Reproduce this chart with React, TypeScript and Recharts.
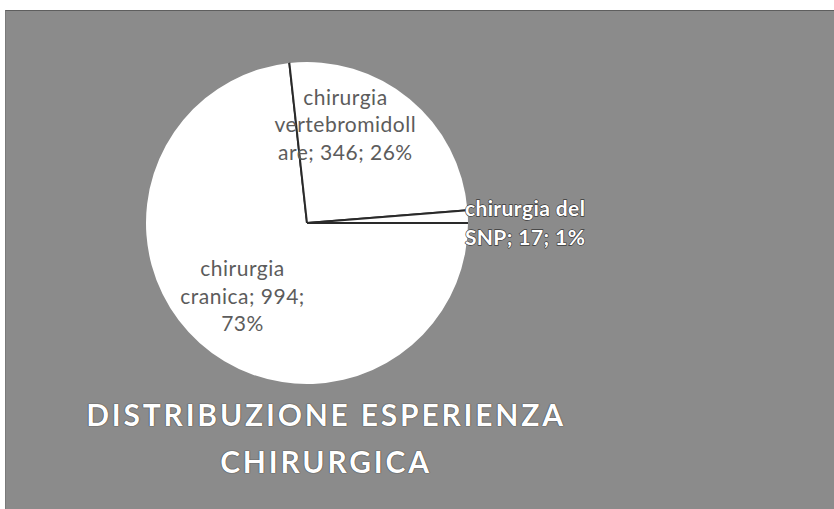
import { PieChart, Pie, Sector } from 'recharts';

const categories = ['chirurgia cranica', 'chirurgia vertebromidollare', 'chirurgia del SNP'];
const counts = [994, 346, 17];
const percents = [73, 26, 1];
const titleLines = ['DISTRIBUZIONE ESPERIENZA', 'CHIRURGICA'];

const data = categories.map((name, i) => ({ name, value: counts[i], pct: percents[i] }));

// where each label sits: fraction of radius + angular nudge (degrees)
const labelPlacement = [
  { radius: 0.6, shift: 0, outside: false },
  { radius: 0.665, shift: 18.6, outside: false },
  { radius: 1.0, shift: 0, outside: true },
];

const RAD = Math.PI / 180;
const polar = (cx: number, cy: number, r: number, angle: number) => ({
  x: cx + r * Math.cos(-angle * RAD),
  y: cy + r * Math.sin(-angle * RAD),
});

// excel-style word wrap with hard break for long words
const wrap = (text: string, max: number) => {
  const lines: string[] = [];
  let cur = '';
  text.split(' ').forEach((w) => {
    let word = w;
    if (cur && (cur + ' ' + word).length > max) {
      lines.push(cur);
      cur = '';
    }
    while ((cur ? cur.length + 1 : 0) + word.length > max) {
      const room = max - (cur ? cur.length + 1 : 0);
      lines.push((cur ? cur + ' ' : '') + word.slice(0, room));
      word = word.slice(room);
      cur = '';
    }
    cur = cur ? cur + ' ' + word : word;
  });
  if (cur) lines.push(cur);
  return lines;
};

const SliceShape = (props: any) => {
  const { cx, cy, outerRadius, startAngle, endAngle } = props;
  const a = polar(cx, cy, outerRadius, startAngle);
  const b = polar(cx, cy, outerRadius, endAngle);
  return (
    <g>
      <Sector {...props} fill="#ffffff" stroke="none" />
      <line x1={cx} y1={cy} x2={a.x} y2={a.y} stroke="#2a2a2a" strokeWidth={2} />
      <line x1={cx} y1={cy} x2={b.x} y2={b.y} stroke="#2a2a2a" strokeWidth={2} />
    </g>
  );
};

const renderLabel = (props: any) => {
  const { cx, cy, midAngle, outerRadius, index, payload } = props;
  const place = labelPlacement[index];
  const text = `${payload.name}; ${payload.value}; ${payload.pct}%`;
  const lines = wrap(text, 14);
  const p = polar(cx, cy, outerRadius * place.radius, midAngle + place.shift);
  if (place.outside) {
    const lh = 29;
    const y0 = p.y + 5 - ((lines.length - 1) * lh) / 2;
    return (
      <text
        x={p.x - 3}
        y={y0}
        textAnchor="start"
        dominantBaseline="central"
        fill="#ffffff"
        stroke="#3a3a3a"
        strokeWidth={1.3}
        paintOrder="stroke"
        letterSpacing={0.4}
        style={{ fontFamily: 'Lato, sans-serif', fontSize: 21, fontWeight: 700 }}
      >
        {lines.map((l, i) => (
          <tspan key={i} x={p.x - 3} y={y0 + i * lh}>
            {l}
          </tspan>
        ))}
      </text>
    );
  }
  const lh = 27.5;
  const y0 = p.y - ((lines.length - 1) * lh) / 2;
  return (
    <text
      x={p.x}
      y={y0}
      textAnchor="middle"
      dominantBaseline="central"
      fill="#5c5c5c"
      letterSpacing={0.5}
      style={{ fontFamily: 'Lato, sans-serif', fontSize: 21 }}
    >
      {lines.map((l, i) => (
        <tspan key={i} x={p.x} y={y0 + i * lh}>
          {l}
        </tspan>
      ))}
    </text>
  );
};

export default function App() {
  return (
    <div style={{ position: 'absolute', left: 0, top: 0, width: 834, height: 509, background: '#ffffff', overflow: 'hidden' }}>
      <div
        style={{
          position: 'absolute',
          left: 5,
          top: 10,
          right: 0,
          bottom: 0,
          background: '#8b8b8b',
          borderTop: '1px solid #5e5e5e',
          borderLeft: '1px solid #7a7a7a',
        }}
      />
      <div style={{ position: 'absolute', left: 0, top: 0 }}>
        <PieChart width={834} height={509} margin={{ top: 0, right: 0, bottom: 0, left: 0 }}>
          <Pie
            data={data}
            dataKey="value"
            nameKey="name"
            cx={307}
            cy={223}
            outerRadius={161}
            startAngle={0}
            endAngle={-360}
            shape={SliceShape}
            label={renderLabel}
            labelLine={false}
            isAnimationActive={false}
          />
        </PieChart>
      </div>
      <div
        style={{
          position: 'absolute',
          left: 0,
          top: 391,
          width: 652,
          textAlign: 'center',
          fontFamily: 'Lato, sans-serif',
          fontWeight: 700,
          fontSize: 30,
          lineHeight: '47px',
          letterSpacing: 2.8,
          color: '#ffffff',
          textShadow: '0 0 1px #333, 0 0 1px #333',
        }}
      >
        {titleLines.map((t) => (
          <div key={t}>{t}</div>
        ))}
      </div>
    </div>
  );
}
